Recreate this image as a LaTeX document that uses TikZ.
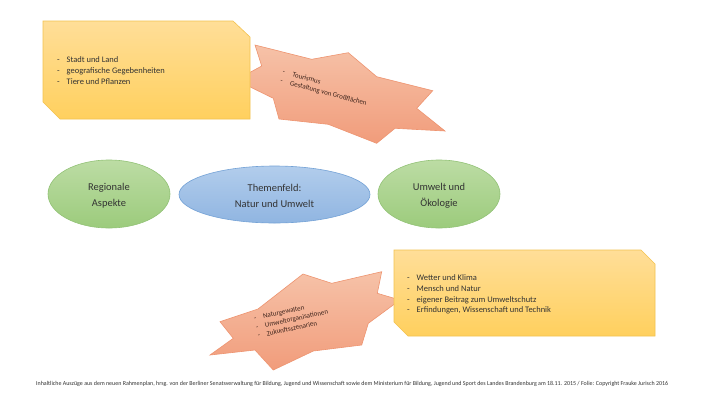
\documentclass[tikz,border=0pt]{standalone}
\usepackage{fontspec}
\setmainfont{Carlito}
\usetikzlibrary{shapes.geometric}
\definecolor{boxtop}{HTML}{FFDE98}
\definecolor{boxbot}{HTML}{FFD05E}
\definecolor{boxline}{HTML}{F3C350}
\definecolor{startop}{HTML}{F6C2A8}
\definecolor{starbot}{HTML}{F19C7B}
\definecolor{starline}{HTML}{EE9470}
\definecolor{greentop}{HTML}{BCDCA4}
\definecolor{greenbot}{HTML}{9CCB7C}
\definecolor{greenline}{HTML}{92C276}
\definecolor{bluetop}{HTML}{B2CDEC}
\definecolor{bluebot}{HTML}{90B5E1}
\definecolor{blueline}{HTML}{74A2D6}
\definecolor{txt}{HTML}{333333}
\definecolor{startxt}{HTML}{3E241C}
\newcommand\dashitem[1]{\makebox[#1][l]{-}}
\begin{document}
\begin{tikzpicture}[x=1bp,y=-1bp,
  starshape/.style={top color=startop, bottom color=starbot, draw=starline, line width=0.6bp, line join=miter},
  boxshape/.style={top color=boxtop, bottom color=boxbot, draw=boxline, line width=0.6bp},
  boxtext/.style={inner sep=0pt, align=left, text=txt, font=\fontsize{8.5}{11}\selectfont, anchor=north west},
  startext/.style={inner sep=0pt, align=left, text=startxt, font=\fontsize{7}{9}\selectfont, anchor=north west},
  ell/.style={ellipse, inner sep=0pt, line width=0.6bp},
  elltext/.style={inner sep=0pt, align=center, text=txt, font=\fontsize{10.5}{16}\selectfont},
  greenell/.style={ell, top color=greentop, bottom color=greenbot, draw=greenline, minimum width=122bp, minimum height=68bp},
  blueell/.style={ell, top color=bluetop, bottom color=bluebot, draw=blueline, minimum width=191bp, minimum height=57bp}
]
\useasboundingbox (0,0) rectangle (711,400);
\fill[white] (0,0) rectangle (711,400);

% top star
\shade[starshape] (255,45) -- (261.7,66) -- (236,80) -- (273.3,98.3) -- (279,119) -- (328.3,124.3) -- (376.7,143.3) -- (395,128.3) -- (445,131) -- (416.7,108.3) -- (432.7,90.7) -- (376.7,76.7) -- (348.3,52.7) -- (311.7,59.3) -- cycle;
% top box
\shade[boxshape] (43,21) -- (233,21) -- (250,37) -- (250,119) -- (60,119) -- (43,102) -- cycle;
\node[boxtext] (toplist) at (57,56.5) {\dashitem{9.5bp}Stadt und Land\\ \dashitem{9.5bp}geografische Gegebenheiten\\ \dashitem{9.5bp}Tiere und Pflanzen};
\node[startext, rotate=-15] (topstar) at (283.5,69) {\dashitem{10bp}Tourismus\\ \dashitem{10bp}Gestaltung von Großflächen};

% ellipses
\node[greenell] (regional) at (109,194) {};
\node[blueell] (thema) at (274.5,194.5) {};
\node[greenell] (oeko) at (439,194) {};
\node[elltext] (regionaltext) at ([yshift=-1.5bp]regional.center) {Regionale\\Aspekte};
\node[elltext] (thematext) at ([yshift=-1.5bp]thema.center) {Themenfeld:\\Natur und Umwelt};
\node[elltext] (oekotext) at ([yshift=-1.5bp]oeko.center) {Umwelt und\\Ökologie};

% bottom star
\shade[starshape] (303,274) -- (331.7,283.3) -- (381.7,271.7) -- (377.3,293.3) -- (400,300) -- (368.3,323.3) -- (361.7,345) -- (313.3,351) -- (273.3,370) -- (255,350) -- (210,355) -- (233.3,338.3) -- (220,321.7) -- (258,309) -- cycle;
% bottom box
\shade[boxshape] (394,250) -- (641,250) -- (655,264) -- (655,336) -- (408,336) -- (394,322) -- cycle;
\node[boxtext] (botlist) at (407,274) {\dashitem{9.5bp}Wetter und Klima\\ \dashitem{9.5bp}Mensch und Natur\\ \dashitem{9.5bp}eigener Beitrag zum Umweltschutz\\ \dashitem{9.5bp}Erfindungen, Wissenschaft und Technik};
\node[startext, rotate=12] (botstar) at (253.5,315.5) {\dashitem{9bp}Naturgewalten\\ \dashitem{9bp}Umweltorganisationen\\ \dashitem{9bp}Zukunftsszenarien};

% footer
\node[inner sep=0pt, anchor=base west, text=txt] (footer) at (36,385) {\resizebox{632bp}{4.2bp}{Inhaltliche Auszüge aus dem neuen Rahmenplan, hrsg. von der Berliner Senatsverwaltung für Bildung, Jugend und Wissenschaft sowie dem Ministerium für Bildung, Jugend und Sport des Landes Brandenburg am 18.11. 2015 / Folie: Copyright Frauke Jurisch 2016}};
\end{tikzpicture}
\end{document}
